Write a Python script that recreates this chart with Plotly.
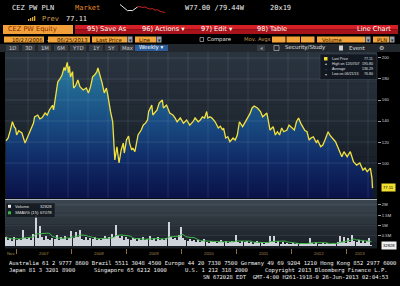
import numpy as np
import pandas as pd
import plotly.graph_objects as go

W, H = 400, 286
MONO = "DejaVu Sans Mono"
SANS = "Liberation Sans"
DSANS = "DejaVu Sans"

START = pd.Timestamp("2006-10-27")
END = pd.Timestamp("2013-06-25")

# ---- data ----
price_weeks = [0, 2, 4, 6, 8, 9, 10, 12, 15, 18,
               20, 23, 26, 27, 30, 32, 34, 37, 39, 41,
               44, 45, 47, 49, 51, 53, 55, 56, 58, 59,
               60, 61, 63, 64, 66, 68, 70, 73, 76, 78,
               80, 82, 84, 86, 87, 89, 91, 93, 95, 96,
               98, 99, 101, 102, 103, 105, 106, 107, 109, 111,
               112, 114, 116, 117, 119, 120, 122, 124, 125, 128,
               130, 132, 134, 135, 138, 139, 141, 143, 145, 148,
               149, 152, 155, 158, 160, 162, 165, 168, 171, 174,
               177, 179, 182, 184, 186, 188, 190, 191, 193, 195,
               198, 201, 203, 205, 206, 208, 210, 212, 215, 217,
               219, 221, 224, 226, 229, 231, 233, 235, 238, 241,
               243, 245, 247, 250, 253, 255, 257, 259, 261, 263,
               266, 268, 271, 273, 275, 277, 279, 281, 283, 285,
               287, 289, 291, 294, 295, 298, 300, 302, 304, 305,
               307, 309, 312, 314, 316, 318, 320, 323, 326, 329,
               332, 335, 338, 340, 342, 344, 345, 346.5, 347, 347.6]
price_values = [121.2, 123.8, 131, 139.3, 134, 133, 126.7, 130.8, 128.6, 119,
                123.8, 131.4, 138, 144, 145.7, 142, 143, 147.6, 145.7, 150.5,
                155, 150.5, 163, 177.4, 180, 183.8, 191, 188, 195.8, 186,
                192, 182, 187, 171.4, 174, 179, 172.7, 169.5, 171.4, 166.7,
                172.7, 182, 184, 187, 190.5, 183.8, 176, 166.7, 171.4, 166.7,
                152, 148.6, 139.3, 119, 102.9, 115.5, 109.5, 100, 112.4, 119,
                109.5, 122, 125.7, 119, 112.4, 114.3, 110.8, 120.3, 126.7, 131.4,
                136.2, 138, 141, 148.9, 155.2, 145.7, 148, 150.5, 157, 160,
                152.4, 155.2, 147.6, 145.7, 143, 139.3, 142.9, 138, 141, 136,
                139.3, 142.9, 139.3, 141, 144, 142.9, 149, 142.9, 144, 142.9,
                139.3, 133.3, 135, 131.4, 133.3, 123.8, 125, 120.3, 123.8, 121.9,
                126.7, 139.3, 134.6, 138, 142.9, 147, 152.4, 154.3, 152.4, 148.9,
                144, 145.7, 147.6, 131.4, 134.6, 126.7, 129.8, 126.7, 133.3, 129.8,
                131.4, 136.2, 133.3, 131.4, 139.3, 142.9, 138, 134.6, 131, 129.8,
                121.9, 124, 125, 119, 121.9, 115.5, 117.1, 122, 126.7, 129.8,
                126, 123.8, 120.3, 115.5, 110, 106, 110.8, 106, 110.8, 101.2,
                98, 100, 93.3, 95.2, 91.7, 94.3, 95.2, 85.7, 76.8, 77.11]

vol_weeks = list(range(0, 348, 2))
vol_values = [450, 300, 380, 250, 420, 300, 350, 280, 800, 400,
              320, 450, 300, 600, 1500, 380, 950, 420, 300, 500,
              350, 280, 400, 320, 550, 300, 420, 350, 480, 300,
              400, 750, 380, 700, 450, 780, 350, 300, 420, 280,
              380, 320, 450, 300, 350, 280, 400, 500, 350, 420,
              600, 450, 1000, 550, 380, 500, 300, 420, 350, 280,
              400, 320, 250, 380, 300, 420, 280, 350, 500, 300,
              380, 250, 420, 300, 350, 280, 400, 1150, 450, 320,
              380, 280, 550, 900, 400, 300, 250, 350, 220, 300,
              200, 280, 180, 250, 320, 200, 150, 220, 180, 250,
              150, 200, 280, 180, 220, 150, 200, 250, 180, 550,
              200, 150, 220, 180, 250, 150, 200, 120, 180, 220,
              150, 200, 120, 180, 150, 500, 200, 480, 150, 220,
              120, 180, 100, 150, 80, 120, 150, 90, 130, 100,
              150, 120, 80, 130, 400, 150, 100, 180, 120, 90,
              140, 100, 160, 120, 80, 140, 100, 180, 500, 200,
              450, 150, 380, 200, 520, 250, 180, 300, 150, 220,
              130, 250, 400, 32.828]

price_ticks = [100, 120, 140, 160, 180, 200]
vol_ticks = [500, 1000, 1500, 2000]
vol_tick_text = ["0.5M", "1M", "1.5M", "2M"]
year_starts = ["2007-01-01", "2008-01-01", "2009-01-01", "2010-01-01",
               "2011-01-01", "2012-01-01", "2013-01-01"]
period_labels = ["Nov", "2007", "2008", "2009", "2010", "2011", "2012", "2013"]
average_text = "136.29"
smavg_text = "67078"
spark_values = [8, 6.5, 4.5, 3, 3.2, 3, 4.5, 6, 6.2, 5.5, 6, 5, 4.2, 4.8,
                3.5, 3.8, 2.5, 2, 1.5]

# ---- derived ----
price_dates = START + pd.to_timedelta(np.array(price_weeks) * 7, unit="D")
vol_dates = START + pd.to_timedelta(np.array(vol_weeks) * 7, unit="D")
smavg = pd.Series(vol_values).rolling(8, min_periods=1).mean()
bounds = [START] + [pd.Timestamp(d) for d in year_starts] + [END]
label_dates = [bounds[i] + (bounds[i + 1] - bounds[i]) / 2 for i in range(len(period_labels))]


def px(x):
    return x / W


def py(y):
    return 1 - y / H


shapes = []
ann = []


def R(x0, y0, x1, y1, fill, line=None, layer="above", lw=0.6):
    shapes.append(dict(type="rect", xref="paper", yref="paper",
                       x0=px(x0), x1=px(x1), y0=py(y1), y1=py(y0),
                       fillcolor=fill, layer=layer,
                       line=dict(width=0) if line is None else dict(color=line, width=lw)))


def T(x, y, s, size=6, color="white", anchor="left", family=SANS, **kw):
    ann.append(dict(x=px(x), y=py(y), xref="paper", yref="paper", text=s,
                    showarrow=False, xanchor=anchor, yanchor="middle",
                    font=dict(size=size, color=color, family=family), **kw))


def hexrgb(h):
    h = h.lstrip("#")
    return [int(h[i:i + 2], 16) for i in (0, 2, 4)]


def lerp(c0, c1, t):
    a, b = hexrgb(c0), hexrgb(c1)
    return "rgb(%d,%d,%d)" % tuple(round(a[i] + (b[i] - a[i]) * t) for i in range(3))


# panel backgrounds (bands)
n = 14
for i in range(n):
    y0 = 52 + (198 - 52) * i / n
    y1 = 52 + (198 - 52) * (i + 1) / n
    R(5, y0, 377, y1 + 0.5, lerp("#2a343f", "#141a22", i / (n - 1)), layer="below")
n = 8
for i in range(n):
    y0 = 200 + (248 - 200) * i / n
    y1 = 200 + (248 - 200) * (i + 1) / n
    R(5, y0, 377, y1 + 0.5, lerp("#3a444e", "#1b2026", i / (n - 1)), layer="below")

# grid lines over the price panel
for k in range(18):
    xg = 28 + 20 * k
    shapes.append(dict(type="line", xref="paper", yref="paper", x0=px(xg), x1=px(xg),
                       y0=py(198), y1=py(52), line=dict(color="rgba(150,175,200,0.15)", width=1),
                       layer="above"))
for v in price_ticks:
    shapes.append(dict(type="line", xref="paper", yref="y", x0=px(5), x1=px(377),
                       y0=v, y1=v, line=dict(color="rgba(150,175,200,0.17)", width=1),
                       layer="above"))
for v in vol_ticks:
    shapes.append(dict(type="line", xref="paper", yref="y2", x0=px(5), x1=px(377),
                       y0=v, y1=v, line=dict(color="rgba(200,210,220,0.08)", width=1),
                       layer="below"))
# separator between panels
shapes.append(dict(type="line", xref="paper", yref="paper", x0=px(5), x1=px(377),
                   y0=py(199.5), y1=py(199.5), line=dict(color="#aab4bf", width=1)))

fig = go.Figure()
fig.add_trace(go.Scatter(
    x=price_dates, y=price_values, mode="lines",
    line=dict(color="#f3e23c", width=1.3),
    fill="tozeroy",
    fillgradient=dict(type="vertical", start=66.7, stop=205.7,
                      colorscale=[[0, "#0a1248"], [0.25, "#102a66"], [0.5, "#184980"],
                                  [0.8, "#236c94"], [1, "#2d84a4"]]),
    xaxis="x", yaxis="y", showlegend=False, hoverinfo="skip"))
fig.add_trace(go.Bar(
    x=vol_dates, y=vol_values, marker=dict(color="#cfd4da", line=dict(width=0)),
    width=8 * 86400000, xaxis="x2", yaxis="y2", showlegend=False, hoverinfo="skip"))
fig.add_trace(go.Scatter(
    x=vol_dates, y=smavg, mode="lines", line=dict(color="#3fb84a", width=1),
    xaxis="x2", yaxis="y2", showlegend=False, hoverinfo="skip"))
# header sparkline
fig.add_trace(go.Scatter(x=list(range(8)), y=spark_values[:8], mode="lines",
                         line=dict(color="#e8e8e8", width=1), xaxis="x3", yaxis="y3",
                         showlegend=False, hoverinfo="skip"))
fig.add_trace(go.Scatter(x=list(range(7, len(spark_values))), y=spark_values[7:], mode="lines",
                         line=dict(color="#d02020", width=1), xaxis="x3", yaxis="y3",
                         showlegend=False, hoverinfo="skip"))

# ---- header ----
T(10, 8.5, "CEZ PW PLN", 7, "#f0f0f0", family=MONO)
T(73, 8.5, "Market", 7, "#e08a2a", family=MONO)
T(183, 8.5, "W77.00 /79.44W", 7, "#f0f0f0", family=MONO)
T(268, 8.5, "20x19", 7, "#f0f0f0", family=MONO)
for i, hgt in enumerate([2, 3, 4, 5]):
    R(28 + i * 2, 21 - hgt, 29.3 + i * 2, 21, "#e0a830")
T(40, 18.5, "Prev", 7, "#d8a050", family=MONO)
T(64, 18.5, "77.11", 7, "#f0f0f0", family=MONO)

# red bar
R(75, 25, 398, 29.5, "#d41f26")
R(75, 29.5, 398, 34, "#a8121a")
R(3, 25, 73, 34, "#f2a13a")
T(6, 29.5, "CEZ PW Equity", 6.6, "#8a2a00", family=DSANS)
T(85, 29.5, "95) Save As", 6.6, "white", family=DSANS)
T(140, 29.5, "96) Actions \u25be", 6.6, "white", family=DSANS)
T(199, 29.5, "97) Edit \u25be", 6.6, "white", family=DSANS)
T(255, 29.5, "98) Table", 6.6, "white", family=DSANS)
T(393, 29.5, "Line Chart", 6.6, "white", anchor="right", family=DSANS)

# row 4
OR = "#f2a33a"
R(4, 36.5, 44, 42.5, OR); T(10, 39.5, "10/27/2006", 5.3, "#1a1000", family=DSANS)
T(45, 39.5, "-", 5.5, "white", family=DSANS)
R(48, 36.5, 90, 42.5, OR); T(55, 39.5, "06/25/2013", 5.3, "#1a1000", family=DSANS)
R(92, 36.5, 127, 42.5, OR); T(94, 39.5, "Last Price", 5.3, "#1a1000", family=DSANS)
R(127.5, 36.5, 132.5, 42.5, "#9aa0a8"); T(130, 39.5, "\u25be", 5, "#202020", anchor="center", family=DSANS)
R(135, 36.5, 156, 42.5, OR); T(137, 39.5, "Line", 5.3, "#1a1000", family=DSANS)
R(156.5, 36.5, 161.5, 42.5, "#9aa0a8"); T(159, 39.5, "\u25be", 5, "#202020", anchor="center", family=DSANS)
R(200, 37.5, 203.5, 41.5, "rgba(0,0,0,0)", line="#d0d0d0", lw=0.6)
T(205, 39.5, "Compare", 5.3, "#e0e0e0", family=DSANS)
T(242, 39.5, "Mov. Avgs", 5.3, "#c89850", family=DSANS)
R(272, 36.5, 285.5, 42.5, OR); R(286.5, 36.5, 300, 42.5, OR); R(301, 36.5, 314.5, 42.5, OR)
R(317, 36.5, 365, 42.5, OR); T(320, 39.5, "Volume", 5.3, "#1a1000", family=DSANS)
R(365.5, 36.5, 370.5, 42.5, "#9aa0a8"); T(368, 39.5, "\u25be", 5, "#202020", anchor="center", family=DSANS)
R(373, 36.5, 389, 42.5, OR); T(375, 39.5, "PLN", 5.3, "#1a1000", family=DSANS)
R(389.5, 36.5, 394.5, 42.5, "#9aa0a8"); T(392, 39.5, "\u25be", 5, "#202020", anchor="center", family=DSANS)

# row 5
R(0, 44, 400, 52, "#22272d")
btns = [("1D", 6, 19), ("3D", 22, 35), ("1M", 38, 51), ("6M", 54, 68), ("YTD", 70, 86),
        ("1Y", 89, 103), ("5Y", 105, 118), ("Max", 120, 134)]
for lab, a, b in btns:
    R(a, 45, b, 51, "#363b42")
    T((a + b) / 2, 48, lab, 5.3, "#d0d0d0", anchor="center", family=DSANS)
R(135, 45, 168, 51, "#2c5c9a")
T(151.5, 48, "Weekly \u25be", 5.5, "white", anchor="center", family=DSANS)
R(257, 45, 265, 51, "#363b42"); T(261, 48, "\u00ab", 5.5, "#d0d0d0", anchor="center", family=DSANS)
R(274, 45.5, 279, 50.5, "rgba(0,0,0,0)", line="#d0d0d0", lw=0.6)
T(283, 48, "Security/Study", 5.5, "#e0e0e0", family=DSANS)
R(339, 45.5, 343, 50.5, "#d0d0d0")
T(347, 48, "Event", 5.5, "#e0e0e0", family=DSANS)
T(381, 48, "\u2699", 6, "#d0d0d0", anchor="center", family=DSANS)

# ---- price legend box ----
R(320, 54, 377, 79.5, "rgba(16,22,30,0.92)", line="#3d4854", lw=0.6)
R(324, 57, 327.5, 60.5, "#f0dc30")
leg_rows = [("Last Price", "%.2f" % price_values[-1]),
            ("High on 12/07/07", "%.2f" % max(price_values)),
            ("Average", average_text),
            ("Low on 06/21/13", "%.2f" % min(price_values))]
leg_y = [58.7, 64, 69.2, 74.4]
marks = [None, "\u25b4", "\u2013", "\u25be"]
for (lab, val), yy, mk in zip(leg_rows, leg_y, marks):
    if mk:
        T(325.7, yy, mk, 3.8, "#c0c0c0", anchor="center", family=DSANS)
    T(330, yy, lab, 3.6, "#e0e0e0")
    T(375, yy, val, 3.6, "#e0e0e0", anchor="right")

# last price tag
ann.append(dict(x=px(381), y=price_values[-1], xref="paper", yref="y",
                text="%.2f" % price_values[-1], showarrow=False, xanchor="left", yanchor="middle",
                bgcolor="#f2e030", borderpad=1, font=dict(size=4.2, color="black", family=SANS)))

# volume legend box
R(6, 203, 55, 217.5, "rgba(18,24,30,0.88)", line="#3d4854", lw=0.5)
R(8, 204.8, 11, 207.8, "#e8e8e8")
R(8, 211.3, 11, 214.3, "#3fb84a")
T(13, 206.3, "Volume", 4.2, "#e0e0e0")
T(53.5, 206.3, "%d" % round(vol_values[-1] * 1000), 4.2, "#e0e0e0", anchor="right")
T(13, 212.8, "SMAVG (15)", 4.2, "#e0e0e0")
T(53.5, 212.8, smavg_text, 4.2, "#e0e0e0", anchor="right")
ann.append(dict(x=px(381), y=vol_values[-1], xref="paper", yref="y2",
                text="%d" % round(vol_values[-1] * 1000), showarrow=False, xanchor="left",
                yanchor="middle", bgcolor="#f0f0f0", borderpad=1,
                font=dict(size=4.2, color="black", family=SANS)))

# period labels under the volume panel
for d, lab in zip(label_dates, period_labels):
    ann.append(dict(x=d, y=py(253.5), xref="x2", yref="paper", text=lab, showarrow=False,
                    xanchor="center", yanchor="middle",
                    font=dict(size=4.3, color="#a8884a", family=SANS)))

# footer
T(7, 263.5, "Australia 61 2 9777 8600 Brazil 5511 3048 4500 Europe 44 20 7330 7500 "
            "Germany 49 69 9204 1210 Hong Kong 852 2977 6000", 5.5, "#f0f0f0", family=MONO)
T(7, 270, "Japan 81 3 3201 8900", 5.5, "#f0f0f0", family=MONO)
T(92, 270, "Singapore 65 6212 1000", 5.5, "#f0f0f0", family=MONO)
T(183, 270, "U.S. 1 212 318 2000", 5.5, "#f0f0f0", family=MONO)
T(390, 270, "Copyright 2013 Bloomberg Finance L.P.", 5.5, "#f0f0f0", anchor="right", family=MONO)
T(390, 276.5, "SN 672028 EDT  GMT-4:00 H261-1918-0 26-Jun-2013 02:04:53", 5.5, "#f0f0f0",
  anchor="right", family=MONO)

axis_tick = dict(size=4.2, color="#d8d8d8", family=SANS)
fig.update_layout(
    width=W, height=H, margin=dict(l=0, r=0, t=0, b=0),
    paper_bgcolor="black", plot_bgcolor="rgba(0,0,0,0)",
    showlegend=False, bargap=0,
    xaxis=dict(domain=[px(5), px(377)], range=["2006-10-20", "2013-07-21"], type="date",
               visible=False, anchor="y"),
    yaxis=dict(domain=[py(198), py(52)], range=[66.7, 205.7], side="right", anchor="x",
               tickvals=price_ticks, ticks="outside", ticklen=3, tickcolor="#9a9a9a",
               tickfont=axis_tick, showgrid=False, zeroline=False, showline=False),
    xaxis2=dict(domain=[px(5), px(377)], matches="x", type="date", anchor="y2",
                tickvals=year_starts, ticks="outside", ticklen=5, tickcolor="#8a7040",
                showticklabels=False, showgrid=False, zeroline=False, showline=False),
    yaxis2=dict(domain=[py(248), py(200)], range=[-97, 2233], side="right", anchor="x2",
                tickvals=vol_ticks, ticktext=vol_tick_text, ticks="outside", ticklen=3,
                tickcolor="#9a9a9a", tickfont=axis_tick, showgrid=False, zeroline=False,
                showline=False),
    xaxis3=dict(domain=[px(120), px(165)], visible=False, anchor="y3"),
    yaxis3=dict(domain=[py(13), py(4)], visible=False, anchor="x3"),
    shapes=shapes, annotations=ann,
)

fig.write_html("out.html")
